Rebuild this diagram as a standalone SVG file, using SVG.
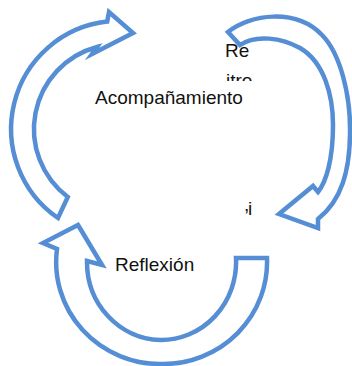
<svg xmlns="http://www.w3.org/2000/svg" width="352" height="366" viewBox="0 0 352 366">
  <style>
    .arrow { fill: #ffffff; stroke: #558ED5; stroke-width: 4.5; stroke-linejoin: miter; stroke-miterlimit: 10; }
    .lbl { font-family: "Liberation Sans", Arial, sans-serif; font-size: 19px; fill: #111111; }
  </style>
  <defs>
    <clipPath id="clipTop">
      <rect x="200" y="60" width="80" height="21"/>
    </clipPath>
  </defs>
  <rect width="352" height="366" fill="#ffffff"/>
  <g id="connectors">
    <path id="arrow-top-left" class="arrow" d="M58,218 A108,108 0 0,1 107.2,21.6 L109,12 L133,33 L92,54 L97,47 A85,85 0 0,0 67.8,197 Z"/>
    <path id="arrow-top-right" class="arrow" d="M228,32 C250,14 296,8 322,35 C340,53 351,95 350,135 C349.5,170 342,200 318,219 L318,228 L279,214 L313,186 L318,192 C326,182 333,160 333,125 C333,95 324,62 300,48 C282,38 256,34 240,45 Z"/>
    <path id="arrow-bottom" class="arrow" d="M78,225 L102,265 L87,261 A75,78 0 0,0 160,340 A75,78 0 0,0 236,258 L267,258 A104,102 0 0,1 162,364 A104,102 0 0,1 57,249 L43,243 Z"/>
  </g>
  <g id="node-acompanamiento">
    <text class="lbl" x="95" y="104">Acompañamiento</text>
  </g>
  <g id="node-reflexion">
    <text class="lbl" x="115" y="271">Reflexión</text>
  </g>
  <g id="node-re">
    <text class="lbl" x="225" y="57">Re</text>
    <text class="lbl" x="226" y="87" clip-path="url(#clipTop)">itro</text>
  </g>
  <g id="node-i">
    <text class="lbl" x="244" y="211">,</text>
    <text class="lbl" x="248" y="215">i</text>
  </g>
</svg>
